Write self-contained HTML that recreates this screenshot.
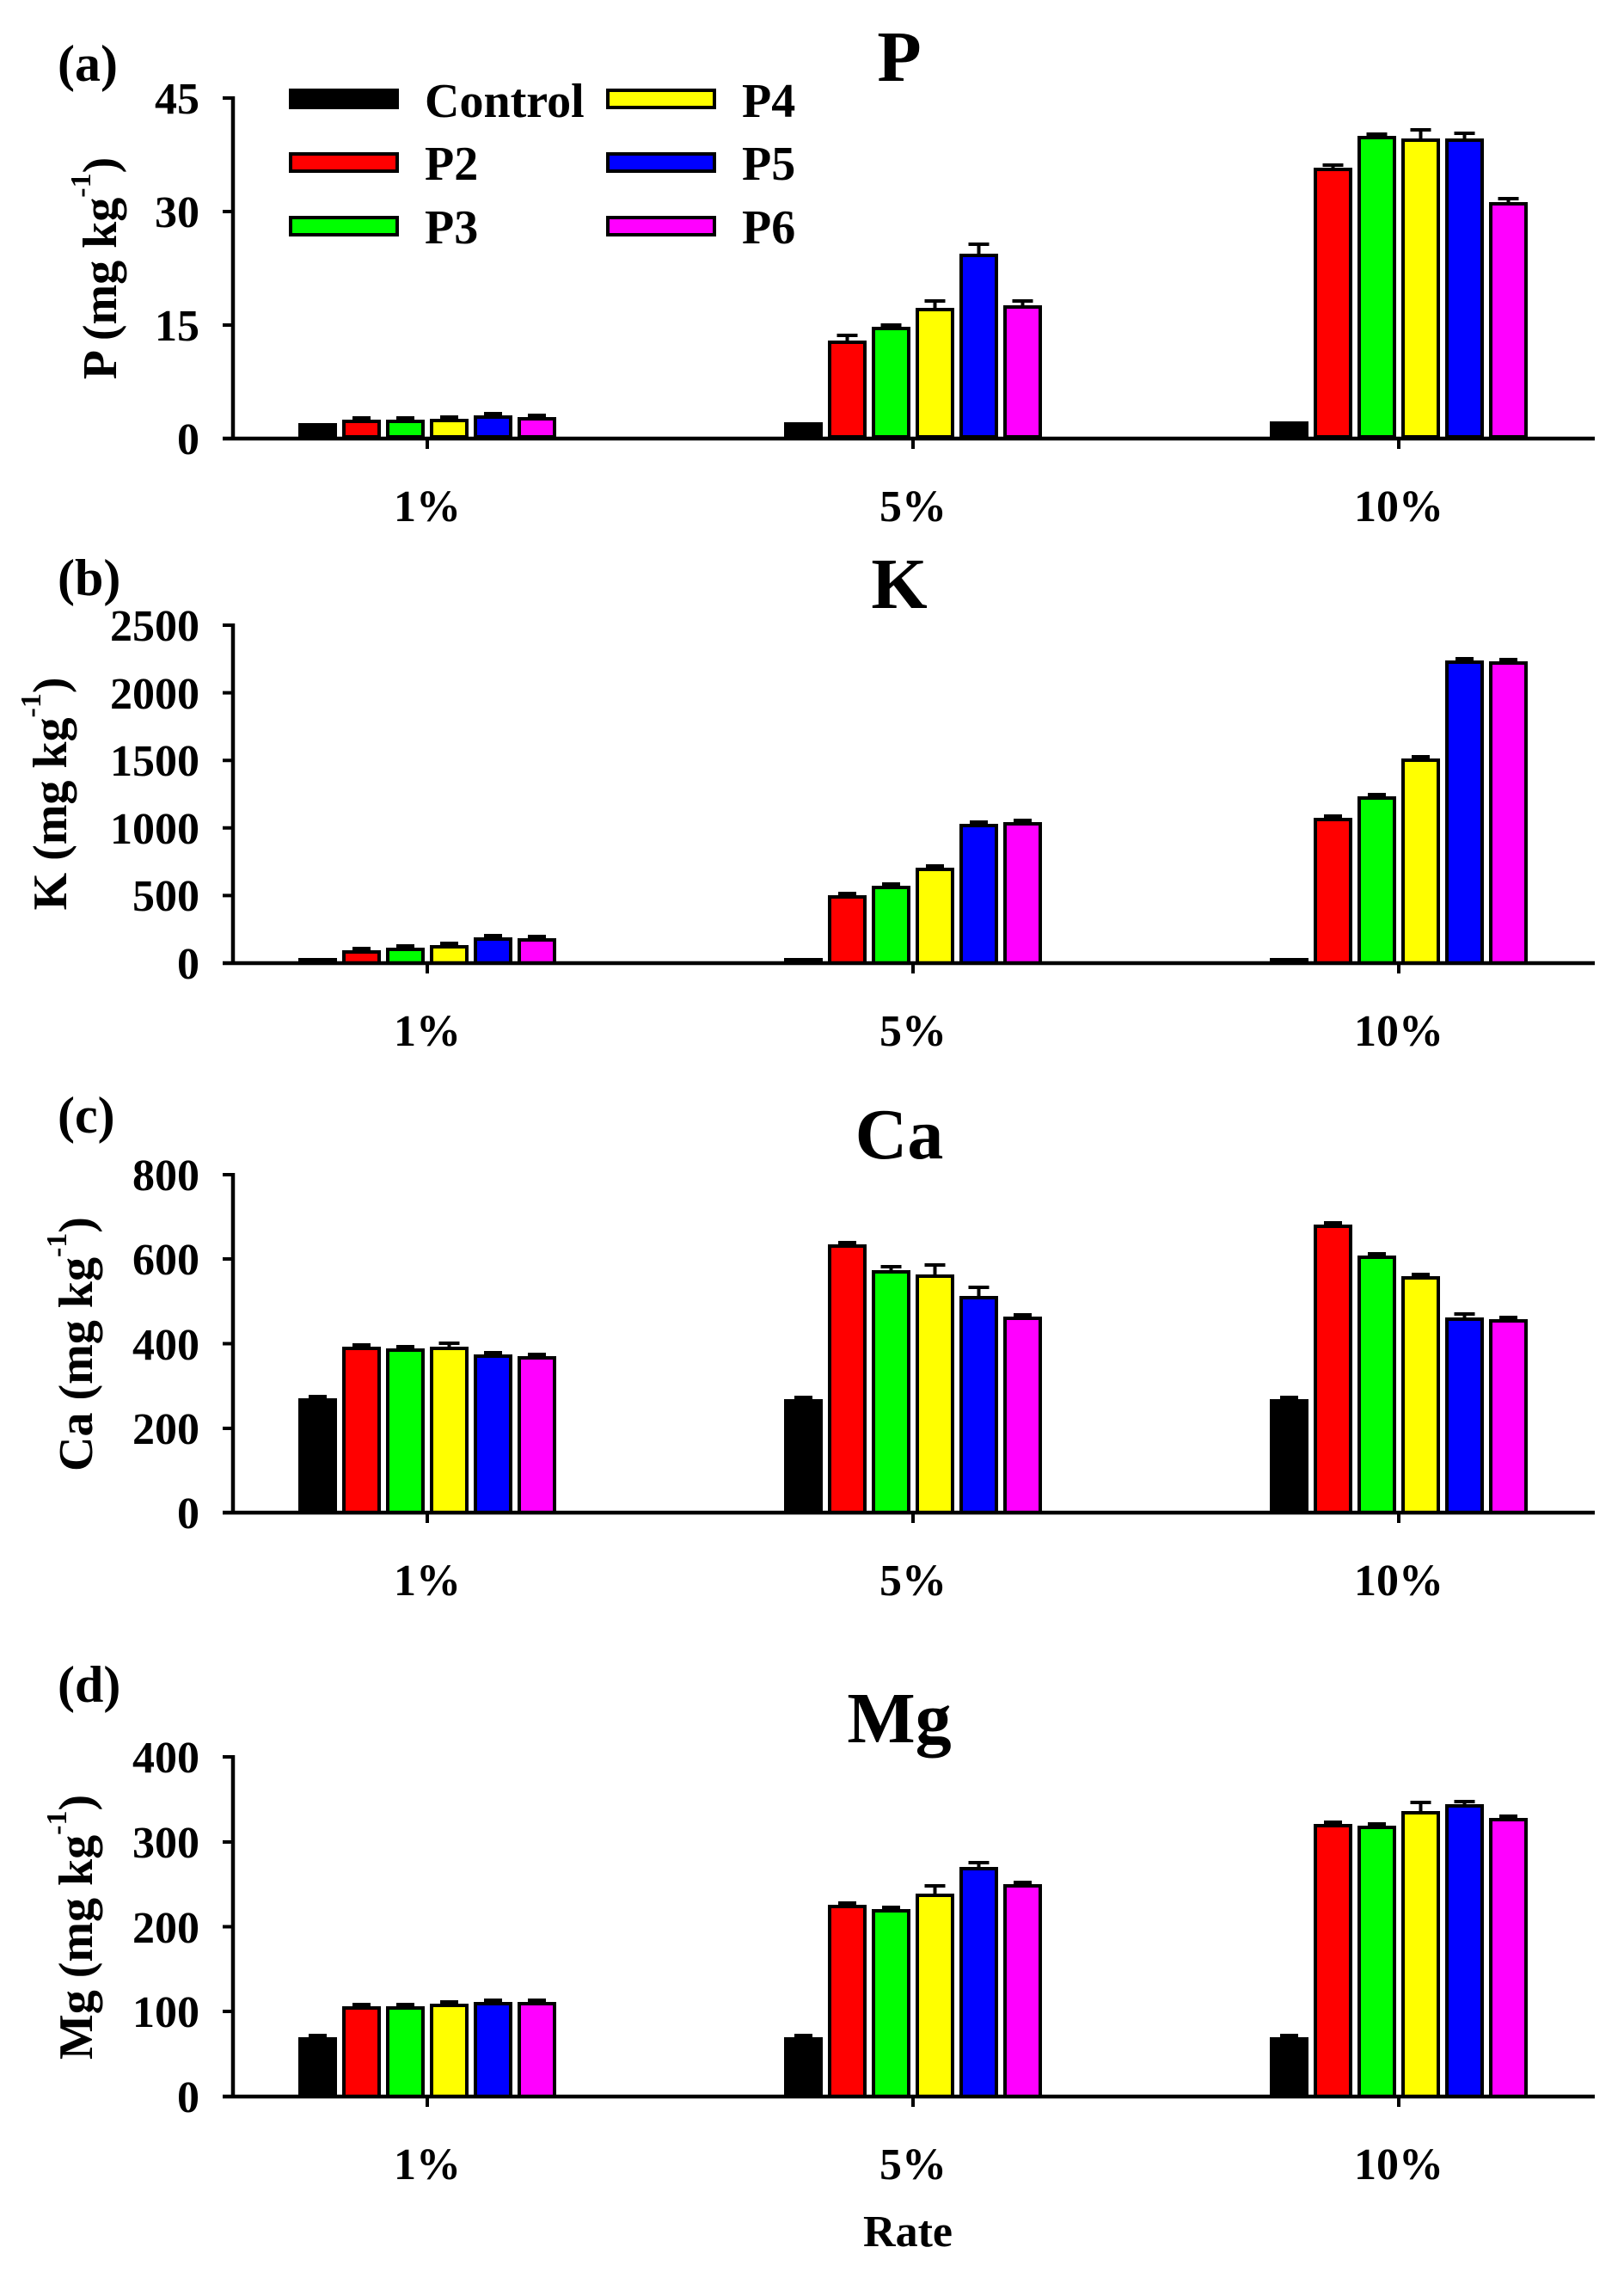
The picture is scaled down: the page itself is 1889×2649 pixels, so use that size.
<!DOCTYPE html>
<html>
<head>
<meta charset="utf-8">
<style>
html,body{margin:0;padding:0;background:#fff;}
svg{display:block;}
text{font-family:"Liberation Serif",serif;font-weight:bold;fill:#000;}
</style>
</head>
<body>
<svg width="1889" height="2649" viewBox="0 0 1889 2649" xmlns="http://www.w3.org/2000/svg">
<rect x="0" y="0" width="1889" height="2649" fill="#fff"/>

<!-- ================= Panel (a) P ================= -->
<text x="67" y="94" font-size="60">(a)</text>
<text x="1046" y="94" font-size="84" text-anchor="middle">P</text>
<text transform="translate(135,312) rotate(-90)" font-size="56" text-anchor="middle">P (mg kg<tspan font-size="34" dy="-30">-1</tspan><tspan dy="30">)</tspan></text>
<g font-size="52" text-anchor="end">
<text x="232" y="132">45</text>
<text x="232" y="264">30</text>
<text x="232" y="396">15</text>
<text x="232" y="528">0</text>
</g>
<g stroke="#000" stroke-width="4" fill="none">
<path d="M259 114H271M259 246H271M259 378H271"/>
<path d="M497 510V522M1062 510V522M1627 510V522"/>
</g>
<!-- legend -->
<g stroke="#000" stroke-width="4">
<rect x="338" y="105" width="124" height="20" fill="#000"/>
<rect x="338" y="179" width="124" height="20" fill="#ff0000"/>
<rect x="338" y="253" width="124" height="20" fill="#00ff00"/>
<rect x="707" y="105" width="124" height="20" fill="#ffff00"/>
<rect x="707" y="179" width="124" height="20" fill="#0000ff"/>
<rect x="707" y="253" width="124" height="20" fill="#ff00ff"/>
</g>
<g font-size="56">
<text x="494" y="136">Control</text>
<text x="494" y="209">P2</text>
<text x="494" y="283">P3</text>
<text x="863" y="136">P4</text>
<text x="863" y="209">P5</text>
<text x="863" y="283">P6</text>
</g>
<g stroke="#000" stroke-width="4">
<rect x="349" y="494" width="41" height="14" fill="#000"/>
<rect x="400" y="490" width="41" height="18" fill="#ff0000"/>
<rect x="451" y="490" width="41" height="18" fill="#00ff00"/>
<rect x="502" y="489" width="41" height="19" fill="#ffff00"/>
<rect x="553" y="485" width="41" height="23" fill="#0000ff"/>
<rect x="604" y="487" width="41" height="21" fill="#ff00ff"/>

<rect x="914" y="493" width="41" height="15" fill="#000"/>
<rect x="965" y="398" width="41" height="110" fill="#ff0000"/>
<rect x="1016" y="382" width="41" height="126" fill="#00ff00"/>
<rect x="1067" y="360" width="41" height="148" fill="#ffff00"/>
<rect x="1118" y="297" width="41" height="211" fill="#0000ff"/>
<rect x="1169" y="357" width="41" height="151" fill="#ff00ff"/>

<rect x="1479" y="492" width="41" height="16" fill="#000"/>
<rect x="1530" y="197" width="41" height="311" fill="#ff0000"/>
<rect x="1581" y="160" width="41" height="348" fill="#00ff00"/>
<rect x="1632" y="163" width="41" height="345" fill="#ffff00"/>
<rect x="1683" y="163" width="41" height="345" fill="#0000ff"/>
<rect x="1734" y="237" width="41" height="271" fill="#ff00ff"/>
</g>
<g stroke="#000" stroke-width="4" fill="none">
<path d="M410 486H431M461 486H482M512 485H533M563 481H584M614 483H635"/>
<path d="M985.5 396V390M973.5 390H997.5M1036.5 380V378M1024.5 378H1048.5M1087.5 358V350M1075.5 350H1099.5M1138.5 295V284M1126.5 284H1150.5M1189.5 355V350M1177.5 350H1201.5"/>
<path d="M1550.5 195V192M1538.5 192H1562.5M1601.5 158V156M1589.5 156H1613.5M1652.5 161V151M1640.5 151H1664.5M1703.5 161V155M1691.5 155H1715.5M1754.5 235V231M1742.5 231H1766.5"/>
</g>
<g stroke="#000" stroke-width="4.5" fill="none">
<path d="M271 112V512"/>
<path d="M259 510H1855"/>
</g>
<g font-size="52" text-anchor="middle">
<text x="497" y="606">1%</text>
<text x="1062" y="606">5%</text>
<text x="1627" y="606">10%</text>
</g>

<!-- ================= Panel (b) K ================= -->
<text x="67" y="692" font-size="60">(b)</text>
<text x="1046" y="707" font-size="84" text-anchor="middle">K</text>
<text transform="translate(77,923) rotate(-90)" font-size="56" text-anchor="middle">K (mg kg<tspan font-size="34" dy="-30">-1</tspan><tspan dy="30">)</tspan></text>
<g font-size="52" text-anchor="end">
<text x="232" y="745">2500</text>
<text x="232" y="824">2000</text>
<text x="232" y="902">1500</text>
<text x="232" y="981">1000</text>
<text x="232" y="1059">500</text>
<text x="232" y="1138">0</text>
</g>
<g stroke="#000" stroke-width="4" fill="none">
<path d="M259 727H271M259 805.6H271M259 884.2H271M259 962.8H271M259 1041.4H271"/>
<path d="M497 1120V1132M1062 1120V1132M1627 1120V1132"/>
</g>
<g fill="#000">
<rect x="347" y="1114" width="45" height="6"/>
<rect x="912" y="1114" width="45" height="6"/>
<rect x="1477" y="1114" width="45" height="6"/>
</g>
<g stroke="#000" stroke-width="4">
<rect x="400" y="1107" width="41" height="13" fill="#ff0000"/>
<rect x="451" y="1104" width="41" height="16" fill="#00ff00"/>
<rect x="502" y="1101" width="41" height="19" fill="#ffff00"/>
<rect x="553" y="1092" width="41" height="28" fill="#0000ff"/>
<rect x="604" y="1093" width="41" height="27" fill="#ff00ff"/>

<rect x="965" y="1043" width="41" height="77" fill="#ff0000"/>
<rect x="1016" y="1032" width="41" height="88" fill="#00ff00"/>
<rect x="1067" y="1011" width="41" height="109" fill="#ffff00"/>
<rect x="1118" y="960" width="41" height="160" fill="#0000ff"/>
<rect x="1169" y="958" width="41" height="162" fill="#ff00ff"/>

<rect x="1530" y="953" width="41" height="167" fill="#ff0000"/>
<rect x="1581" y="928" width="41" height="192" fill="#00ff00"/>
<rect x="1632" y="884" width="41" height="236" fill="#ffff00"/>
<rect x="1683" y="770" width="41" height="350" fill="#0000ff"/>
<rect x="1734" y="771" width="41" height="349" fill="#ff00ff"/>
</g>
<g stroke="#000" stroke-width="4" fill="none">
<path d="M410 1103H431M461 1100H482M512 1097H533M563 1088H584M614 1089H635"/>
<path d="M975 1039H996M1026 1028H1047M1077 1007H1098M1128 956H1149M1179 954H1200"/>
<path d="M1540 949H1561M1591 924H1612M1642 880H1663M1693 766H1714M1744 767H1765"/>
</g>
<g stroke="#000" stroke-width="4.5" fill="none">
<path d="M271 725V1122"/>
<path d="M259 1120H1855"/>
</g>
<g font-size="52" text-anchor="middle">
<text x="497" y="1216">1%</text>
<text x="1062" y="1216">5%</text>
<text x="1627" y="1216">10%</text>
</g>

<!-- ================= Panel (c) Ca ================= -->
<text x="67" y="1317" font-size="60">(c)</text>
<text x="1046" y="1347" font-size="84" text-anchor="middle">Ca</text>
<text transform="translate(107,1563) rotate(-90)" font-size="56" text-anchor="middle">Ca (mg kg<tspan font-size="34" dy="-30">-1</tspan><tspan dy="30">)</tspan></text>
<g font-size="52" text-anchor="end">
<text x="232" y="1384">800</text>
<text x="232" y="1482">600</text>
<text x="232" y="1581">400</text>
<text x="232" y="1679">200</text>
<text x="232" y="1777">0</text>
</g>
<g stroke="#000" stroke-width="4" fill="none">
<path d="M259 1366H271M259 1464H271M259 1562.5H271M259 1661H271"/>
<path d="M497 1759V1771M1062 1759V1771M1627 1759V1771"/>
</g>
<g stroke="#000" stroke-width="4">
<rect x="349" y="1628" width="41" height="131" fill="#000"/>
<rect x="400" y="1568" width="41" height="191" fill="#ff0000"/>
<rect x="451" y="1570" width="41" height="189" fill="#00ff00"/>
<rect x="502" y="1568" width="41" height="191" fill="#ffff00"/>
<rect x="553" y="1577" width="41" height="182" fill="#0000ff"/>
<rect x="604" y="1579" width="41" height="180" fill="#ff00ff"/>

<rect x="914" y="1629" width="41" height="130" fill="#000"/>
<rect x="965" y="1449" width="41" height="310" fill="#ff0000"/>
<rect x="1016" y="1479" width="41" height="280" fill="#00ff00"/>
<rect x="1067" y="1484" width="41" height="275" fill="#ffff00"/>
<rect x="1118" y="1509" width="41" height="250" fill="#0000ff"/>
<rect x="1169" y="1533" width="41" height="226" fill="#ff00ff"/>

<rect x="1479" y="1629" width="41" height="130" fill="#000"/>
<rect x="1530" y="1426" width="41" height="333" fill="#ff0000"/>
<rect x="1581" y="1462" width="41" height="297" fill="#00ff00"/>
<rect x="1632" y="1486" width="41" height="273" fill="#ffff00"/>
<rect x="1683" y="1534" width="41" height="225" fill="#0000ff"/>
<rect x="1734" y="1536" width="41" height="223" fill="#ff00ff"/>
</g>
<g stroke="#000" stroke-width="4" fill="none">
<path d="M359 1624H380M410 1564H431M461 1566H482M522.5 1566V1562M510.5 1562H534.5M563 1573H584M614 1575H635"/>
<path d="M924 1625H945M975 1445H996M1036.5 1477V1473M1024.5 1473H1048.5M1087.5 1482V1471M1075.5 1471H1099.5M1138.5 1507V1497M1126.5 1497H1150.5M1179 1529H1200"/>
<path d="M1489 1625H1510M1540 1422H1561M1591 1458H1612M1642 1482H1663M1703.5 1532V1528M1691.5 1528H1715.5M1744 1532H1765"/>
</g>
<g stroke="#000" stroke-width="4.5" fill="none">
<path d="M271 1364V1761"/>
<path d="M259 1759H1855"/>
</g>
<g font-size="52" text-anchor="middle">
<text x="497" y="1855">1%</text>
<text x="1062" y="1855">5%</text>
<text x="1627" y="1855">10%</text>
</g>

<!-- ================= Panel (d) Mg ================= -->
<text x="67" y="1979" font-size="60">(d)</text>
<text x="1046" y="2026" font-size="84" text-anchor="middle">Mg</text>
<text transform="translate(107,2241) rotate(-90)" font-size="56" text-anchor="middle">Mg (mg kg<tspan font-size="34" dy="-30">-1</tspan><tspan dy="30">)</tspan></text>
<g font-size="52" text-anchor="end">
<text x="232" y="2061">400</text>
<text x="232" y="2160">300</text>
<text x="232" y="2259">200</text>
<text x="232" y="2357">100</text>
<text x="232" y="2456">0</text>
</g>
<g stroke="#000" stroke-width="4" fill="none">
<path d="M259 2043H271M259 2142H271M259 2240.5H271M259 2339H271"/>
<path d="M497 2438V2450M1062 2438V2450M1627 2438V2450"/>
</g>
<g stroke="#000" stroke-width="4">
<rect x="349" y="2371" width="41" height="67" fill="#000"/>
<rect x="400" y="2335" width="41" height="103" fill="#ff0000"/>
<rect x="451" y="2335" width="41" height="103" fill="#00ff00"/>
<rect x="502" y="2332" width="41" height="106" fill="#ffff00"/>
<rect x="553" y="2330" width="41" height="108" fill="#0000ff"/>
<rect x="604" y="2330" width="41" height="108" fill="#ff00ff"/>

<rect x="914" y="2371" width="41" height="67" fill="#000"/>
<rect x="965" y="2217" width="41" height="221" fill="#ff0000"/>
<rect x="1016" y="2222" width="41" height="216" fill="#00ff00"/>
<rect x="1067" y="2204" width="41" height="234" fill="#ffff00"/>
<rect x="1118" y="2173" width="41" height="265" fill="#0000ff"/>
<rect x="1169" y="2193" width="41" height="245" fill="#ff00ff"/>

<rect x="1479" y="2371" width="41" height="67" fill="#000"/>
<rect x="1530" y="2123" width="41" height="315" fill="#ff0000"/>
<rect x="1581" y="2125" width="41" height="313" fill="#00ff00"/>
<rect x="1632" y="2108" width="41" height="330" fill="#ffff00"/>
<rect x="1683" y="2100" width="41" height="338" fill="#0000ff"/>
<rect x="1734" y="2116" width="41" height="322" fill="#ff00ff"/>
</g>
<g stroke="#000" stroke-width="4" fill="none">
<path d="M359 2367H380M410 2331H431M461 2331H482M512 2328H533M563 2326H584M614 2326H635"/>
<path d="M924 2367H945M975 2213H996M1026 2218H1047M1087.5 2202V2193M1075.5 2193H1099.5M1138.5 2171V2166M1126.5 2166H1150.5M1179 2189H1200"/>
<path d="M1489 2367H1510M1540 2119H1561M1591 2121H1612M1652.5 2106V2096M1640.5 2096H1664.5M1703.5 2098V2095M1691.5 2095H1715.5M1744 2112H1765"/>
</g>
<g stroke="#000" stroke-width="4.5" fill="none">
<path d="M271 2041V2440"/>
<path d="M259 2438H1855"/>
</g>
<g font-size="52" text-anchor="middle">
<text x="497" y="2534">1%</text>
<text x="1062" y="2534">5%</text>
<text x="1627" y="2534">10%</text>
<text x="1056" y="2612">Rate</text>
</g>
</svg>
</body>
</html>
